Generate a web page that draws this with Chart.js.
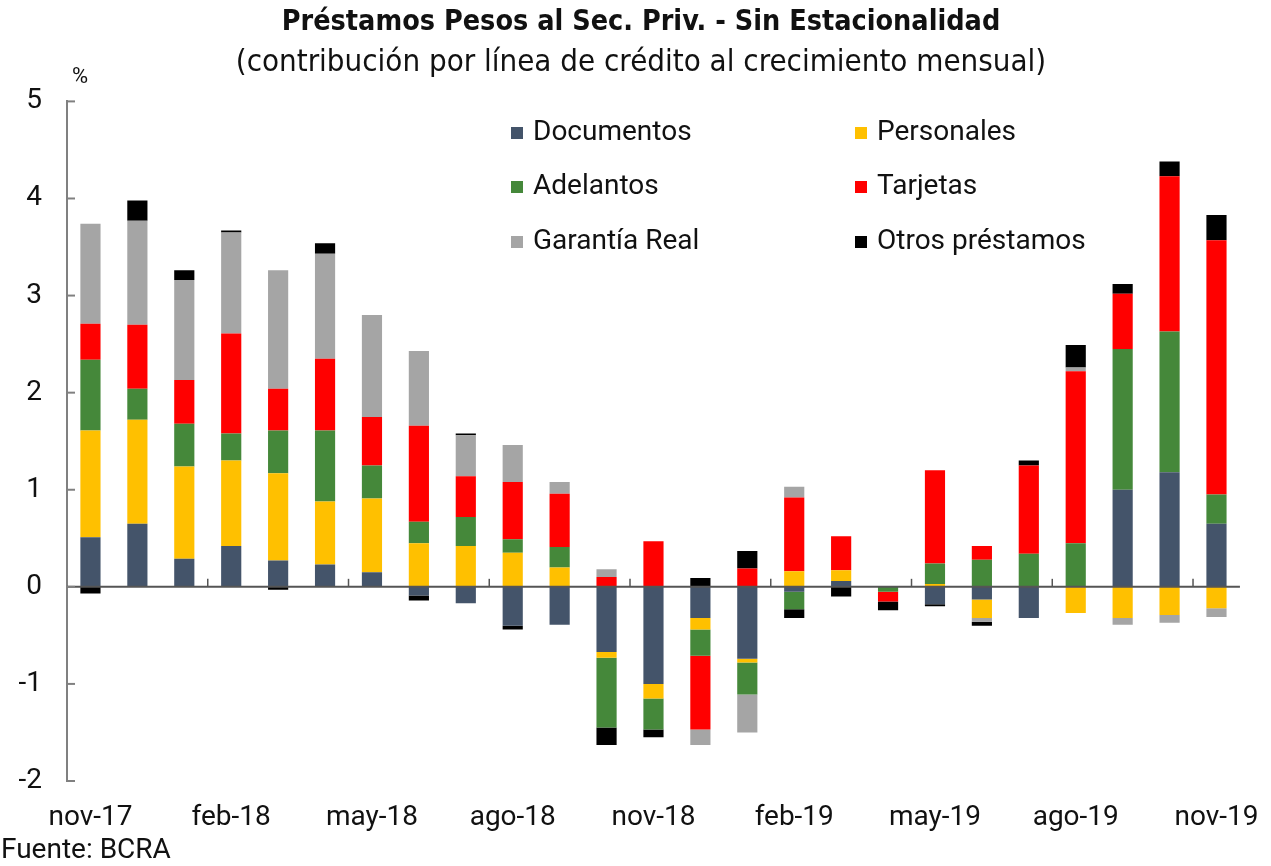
<!DOCTYPE html>
<html><head><meta charset="utf-8">
<script src="https://cdn.jsdelivr.net/npm/chart.js@4.4.1/dist/chart.umd.min.js"></script>
<style>html,body{margin:0;padding:0;background:#fff}canvas{display:block}</style>
</head><body>
<canvas id="c" width="1271" height="866"></canvas>
<script>
const categories = ['nov-17','dic-17','ene-18','feb-18','mar-18','abr-18','may-18','jun-18','jul-18','ago-18','sep-18','oct-18','nov-18','dic-18','ene-19','feb-19','mar-19','abr-19','may-19','jun-19','jul-19','ago-19','sep-19','oct-19','nov-19'];
const documentos   = [0.51,0.65,0.29,0.42,0.27,0.23,0.15,-0.09,-0.17,-0.40,-0.39,-0.67,-1.00,-0.32,-0.74,-0.05,0.06,0,-0.18,-0.13,-0.32,0,1.00,1.18,0.65];
const personales   = [1.10,1.07,0.95,0.88,0.90,0.65,0.76,0.45,0.42,0.35,0.20,-0.06,-0.15,-0.12,-0.04,0.16,0.11,0,0.03,-0.19,0,-0.27,-0.32,-0.29,-0.22];
const adelantos    = [0.73,0.32,0.44,0.28,0.44,0.73,0.34,0.22,0.30,0.14,0.21,-0.72,-0.32,-0.27,-0.33,-0.18,0,-0.05,0.21,0.28,0.34,0.45,1.45,1.45,0.30];
const tarjetas     = [0.37,0.66,0.45,1.03,0.43,0.74,0.50,0.99,0.42,0.59,0.55,0.10,0.47,-0.76,0.19,0.76,0.35,-0.10,0.96,0.14,0.91,1.77,0.57,1.60,2.62];
const garantiaReal = [1.03,1.07,1.03,1.04,1.22,1.08,1.05,0.77,0.42,0.38,0.12,0.08,0,-0.16,-0.39,0.11,0,0,0,-0.04,0,0.04,-0.07,-0.08,-0.09];
const otros        = [-0.07,0.21,0.10,0.02,-0.03,0.11,0,-0.05,0.02,-0.04,0,-0.18,-0.08,0.09,0.18,-0.09,-0.10,-0.09,-0.02,-0.04,0.05,0.23,0.10,0.15,0.26];
const seriesNames  = ['Documentos','Personales','Adelantos','Tarjetas','Garantía Real','Otros préstamos'];
const seriesColors = ['#44546A','#FFC000','#45883A','#FF0000','#A5A5A5','#000000'];
const shownLabels  = ['nov-17','feb-18','may-18','ago-18','nov-18','feb-19','may-19','ago-19','nov-19'];
const yMin = -2, yMax = 5, yStep = 1;

const TXT = '#111111';
const BASE = "Roboto, 'Liberation Sans', sans-serif";
const NARROW = "'Liberation Sans Narrow', 'DejaVu Sans Condensed', Roboto, sans-serif";

const overlay = {
  id: 'overlay',
  afterDatasetsDraw(chart) {
    const ctx = chart.ctx, x = chart.scales.x, y = chart.scales.y, a = chart.chartArea;
    const y0 = y.getPixelForValue(0);
    ctx.save();
    ctx.strokeStyle = '#555555'; ctx.lineWidth = 2;
    ctx.beginPath(); ctx.moveTo(a.left, y0); ctx.lineTo(a.right, y0); ctx.stroke();
    const step = (x.getPixelForValue(1) - x.getPixelForValue(0));
    ctx.lineWidth = 1.5;
    categories.forEach((c, i) => {
      if (i > 0 && i % 3 === 0) {
        const px = x.getPixelForValue(i) - step / 2;
        ctx.beginPath(); ctx.moveTo(px, y0); ctx.lineTo(px, y0 - 8); ctx.stroke();
      }
    });
    ctx.strokeStyle = '#808080'; ctx.lineWidth = 2;
    for (let v = yMin; v <= yMax; v += yStep) {
      const py = y.getPixelForValue(v);
      ctx.beginPath(); ctx.moveTo(a.left, py); ctx.lineTo(a.left + 8, py); ctx.stroke();
    }
    ctx.restore();
  },
  afterDraw(chart) {
    const ctx = chart.ctx, a = chart.chartArea;
    ctx.save();
    ctx.fillStyle = TXT;
    ctx.textBaseline = 'middle';
    ctx.textAlign = 'left';
    ctx.font = '22px ' + BASE;
    ctx.fillText('%', a.left + 5, a.top - 24);
    ctx.font = '28px ' + BASE;
    ctx.fillText('Fuente: BCRA', 1, 851);
    const colX = [511, 855], rowY = [133, 187, 242];
    chart.data.datasets.forEach((ds, i) => {
      const cx = colX[i % 2], cy = rowY[Math.floor(i / 2)];
      ctx.fillStyle = ds.backgroundColor;
      ctx.fillRect(cx, cy - 6, 12, 12);
      ctx.fillStyle = TXT;
      ctx.fillText(ds.label, cx + 22, cy);
    });
    ctx.restore();
  }
};

const seriesData = [documentos, personales, adelantos, tarjetas, garantiaReal, otros];
new Chart(document.getElementById('c'), {
  type: 'bar',
  data: {
    labels: categories,
    datasets: seriesData.map((d, i) => ({
      label: seriesNames[i], data: d, backgroundColor: seriesColors[i],
      borderWidth: 0, barPercentage: 0.43, categoryPercentage: 1
    }))
  },
  options: {
    responsive: false, animation: false, devicePixelRatio: 1,
    layout: { padding: { left: 11, right: 0, top: 0, bottom: 0 } },
    plugins: {
      legend: { display: false }, tooltip: { enabled: false },
      title: { display: true, text: 'Préstamos Pesos al Sec. Priv. - Sin Estacionalidad', color: TXT,
               font: { family: NARROW, size: 28.5, weight: 'bold' }, padding: { top: 5, bottom: 0 } },
      subtitle: { display: true, text: '(contribución por línea de crédito al crecimiento mensual)', color: TXT,
               font: { family: NARROW, size: 31, weight: 'normal' }, padding: { top: 5, bottom: 20 } }
    },
    scales: {
      x: {
        stacked: true,
        grid: { display: false }, border: { display: false },
        ticks: { autoSkip: false, maxRotation: 0, minRotation: 0, padding: 12, color: TXT,
                 font: { family: BASE, size: 28 },
                 callback: (v, i) => shownLabels.includes(categories[i]) ? categories[i] : '' },
        afterFit: s => { s.height = 85; }
      },
      y: {
        stacked: true, min: yMin, max: yMax,
        grid: { display: false },
        border: { display: true, color: '#808080', width: 2 },
        ticks: { stepSize: yStep, padding: 17, color: TXT, font: { family: BASE, size: 28 } },
        afterFit: s => { s.width = 56; }
      },
      yRight: {
        position: 'right', display: true, min: yMin, max: yMax,
        grid: { display: false }, border: { display: false },
        ticks: { display: false },
        afterFit: s => { s.width = 26; }
      }
    }
  },
  plugins: [overlay]
});
</script>
</body></html>
